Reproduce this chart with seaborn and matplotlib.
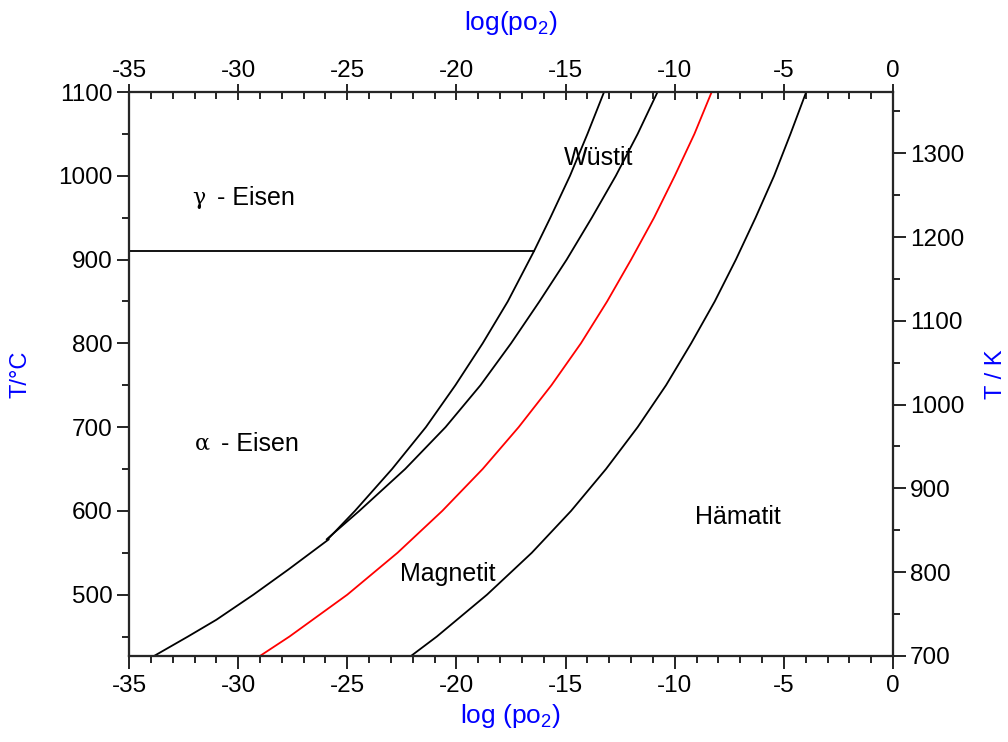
import matplotlib
matplotlib.use("Agg")
import matplotlib.pyplot as plt
from matplotlib.ticker import MultipleLocator
import seaborn as sns

# Phasengrenzen im System Fe-O, abgelesen aus dem Bild
# log(po2) als Funktion der Temperatur in °C

t_fe_feo = [566, 600, 650, 700, 750, 800, 850, 910, 950, 1000, 1050, 1100]
x_fe_feo = [-25.9, -24.65, -22.95, -21.4, -20.05, -18.8, -17.65, -16.45, -15.7, -14.8, -14.0, -13.24]

t_feo_fe3o4 = [566, 600, 650, 700, 750, 800, 850, 900, 950, 1000, 1050, 1100]
x_feo_fe3o4 = [-25.95, -24.45, -22.35, -20.5, -18.9, -17.5, -16.2, -14.95, -13.8, -12.7, -11.7, -10.79]

t_fe_fe3o4 = [426.85, 450, 470, 500, 530, 566]
x_fe_fe3o4 = [-33.85, -32.3, -31.0, -29.3, -27.7, -25.85]

t_rot = [426.85, 450, 500, 550, 600, 650, 700, 750, 800, 850, 900, 950, 1000, 1050, 1100]
x_rot = [-29.0, -27.65, -25.0, -22.7, -20.65, -18.8, -17.15, -15.65, -14.3, -13.1, -12.0, -10.95, -10.0, -9.1, -8.31]

t_fe3o4_fe2o3 = [426.85, 450, 500, 550, 600, 650, 700, 750, 800, 850, 900, 950, 1000, 1050, 1100]
x_fe3o4_fe2o3 = [-22.08, -20.9, -18.6, -16.55, -14.75, -13.15, -11.7, -10.4, -9.25, -8.17, -7.2, -6.3, -5.45, -4.7, -3.98]

# alpha/gamma Umwandlung
t_umw = 910
x_umw = [-35, -16.45]

sns.set_style("white")
plt.rcParams["font.family"] = ["Liberation Sans", "DejaVu Sans"]
plt.rcParams["mathtext.fontset"] = "custom"
plt.rcParams["mathtext.rm"] = "Liberation Sans"
plt.rcParams["axes.unicode_minus"] = False
plt.rcParams["text.color"] = "black"
plt.rcParams["xtick.color"] = "black"
plt.rcParams["ytick.color"] = "black"

fig = plt.figure(figsize=(10.08, 7.42), dpi=100)
ax = fig.add_axes([0.128, 0.116, 0.758, 0.76])

kw = dict(sort=False, estimator=None, ax=ax, linewidth=1.3)
sns.lineplot(x=x_fe_feo, y=t_fe_feo, color="black", **kw)
sns.lineplot(x=x_feo_fe3o4, y=t_feo_fe3o4, color="black", **kw)
sns.lineplot(x=x_fe_fe3o4, y=t_fe_fe3o4, color="black", **kw)
sns.lineplot(x=x_rot, y=t_rot, color="red", **kw)
sns.lineplot(x=x_fe3o4_fe2o3, y=t_fe3o4_fe2o3, color="black", **kw)
sns.lineplot(x=x_umw, y=[t_umw, t_umw], color="black", **kw)

tmin, tmax = 426.85, 1100
ax.set_xlim(-35, 0)
ax.set_ylim(tmin, tmax)
ax.xaxis.set_major_locator(MultipleLocator(5))
ax.xaxis.set_minor_locator(MultipleLocator(1))
ax.yaxis.set_major_locator(MultipleLocator(100))
ax.yaxis.set_minor_locator(MultipleLocator(50))
ax.tick_params(which="major", direction="out", length=9, width=1.2, labelsize=17.5, pad=3)
ax.tick_params(axis="x", which="major", pad=5)
ax.tick_params(which="minor", direction="out", length=5, width=1.2)
ax.set_xlabel(r"log (po$_\mathrm{2}$)", color="blue", fontsize=19, labelpad=3)
ax.set_ylabel("T/°C", color="blue", fontsize=17)
ax.yaxis.set_label_coords(-0.127, 0.5)

for s in ax.spines.values():
    s.set_linewidth(1.5)

# obere Achse
axt = ax.twiny()
axt.set_xlim(-35, 0)
axt.xaxis.set_major_locator(MultipleLocator(5))
axt.xaxis.set_minor_locator(MultipleLocator(1))
axt.tick_params(which="major", direction="inout", length=12, width=1.2, labelsize=17.5, pad=1)
axt.tick_params(which="minor", direction="in", length=5, width=1.2)
axt.set_xlabel(r"log(po$_\mathrm{2}$)", color="blue", fontsize=19, labelpad=22)

# rechte Achse in Kelvin
axr = ax.twinx()
axr.set_ylim(tmin + 273.15, tmax + 273.15)
axr.yaxis.set_major_locator(MultipleLocator(100))
axr.yaxis.set_minor_locator(MultipleLocator(50))
axr.tick_params(which="major", direction="out", length=9, width=1.2, labelsize=17.5, pad=3)
axr.tick_params(which="minor", direction="out", length=5, width=1.2)
axr.set_ylabel("T / K", color="blue", fontsize=17)
axr.yaxis.set_label_coords(1.12, 0.5)
for a in (axt, axr):
    for s in a.spines.values():
        s.set_linewidth(1.5)

ax.text(-31.8, 973, "γ", fontsize=16, family="DejaVu Serif", ha="center", va="center")
ax.text(-30.95, 973, "- Eisen", fontsize=18, ha="left", va="center")
ax.text(-31.65, 680, "α", fontsize=16, family="DejaVu Serif", ha="center", va="center")
ax.text(-30.8, 680, "- Eisen", fontsize=18, ha="left", va="center")
ax.text(-13.5, 1021, "Wüstit", fontsize=18, ha="center", va="center")
ax.text(-20.4, 525, "Magnetit", fontsize=18, ha="center", va="center")
ax.text(-7.1, 593, "Hämatit", fontsize=18, ha="center", va="center")

fig.savefig("out.png", dpi=100)
